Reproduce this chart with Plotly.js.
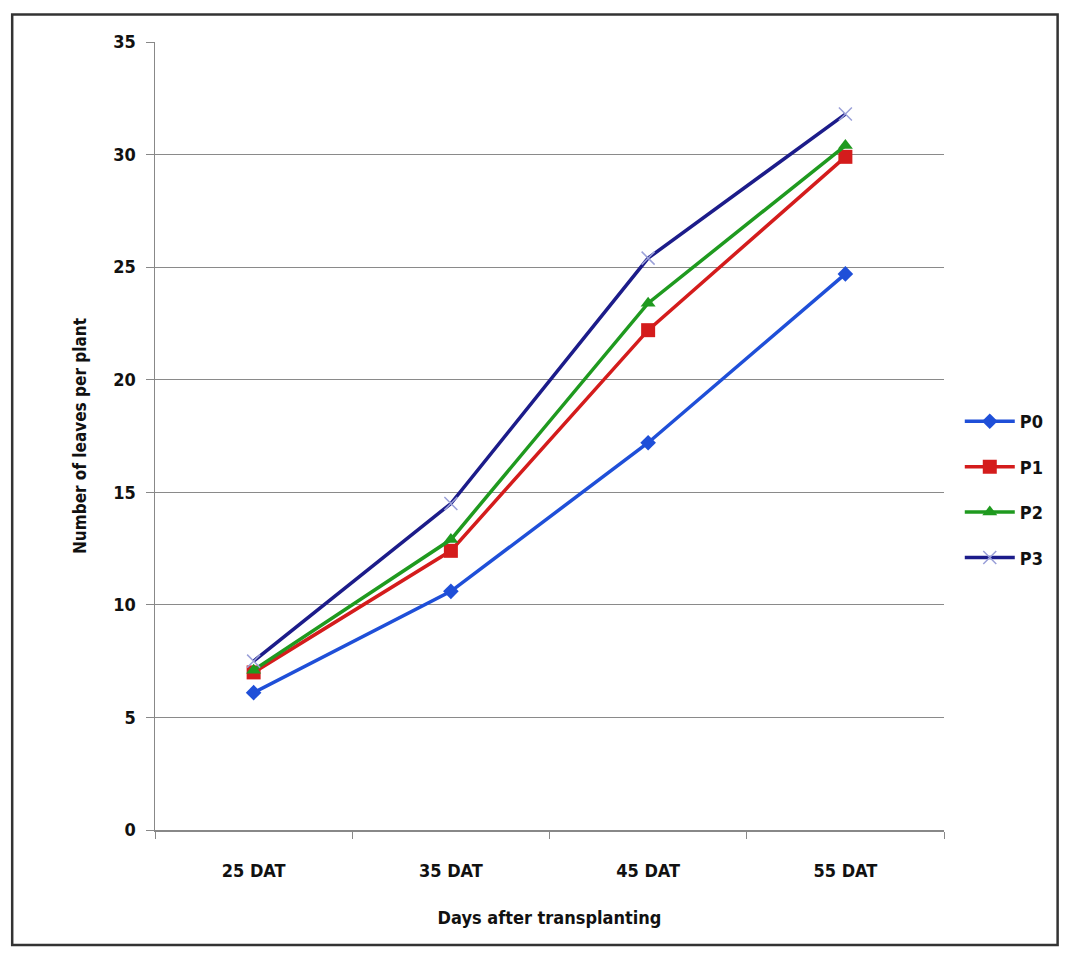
<!DOCTYPE html>
<html>
<head>
<meta charset="utf-8">
<script src="https://cdn.plot.ly/plotly-3.0.1.min.js"></script>
<style>
html,body{margin:0;padding:0;background:#fff;}
#chart{width:1065px;height:956px;}
</style>
</head>
<body>
<div id="chart"></div>
<script>
const categories = ["25 DAT", "35 DAT", "45 DAT", "55 DAT"];
const seriesNames = ["P0", "P1", "P2", "P3"];
const P0 = [6.1, 10.6, 17.2, 24.7];
const P1 = [7.0, 12.4, 22.2, 29.9];
const P2 = [7.1, 12.9, 23.4, 30.4];
const P3 = [7.5, 14.5, 25.4, 31.8];
const yTicks = [0, 5, 10, 15, 20, 25, 30, 35];

const FONT = '"DejaVu Sans Condensed", "Liberation Sans Narrow", "Open Sans", sans-serif';
const colors = ["#1f4fd8", "#d41c1c", "#1f9a1f", "#1c1c8a"];
const symbols = ["diamond", "square", "triangle-up", "x-thin"];
const sizes = [12, 14, 13, 13];
const values = [P0, P1, P2, P3];

const traces = values.map((v, i) => ({
  type: "scatter",
  mode: "lines+markers",
  name: seriesNames[i],
  legendgroup: "g" + i,
  x: categories,
  y: v,
  line: {color: colors[i], width: 3.5},
  marker: {
    symbol: symbols[i],
    size: sizes[i],
    color: i === 3 ? "#9aa0d8" : colors[i],
    line: {width: i === 3 ? 1.5 : 0, color: i === 3 ? "#9aa0d8" : colors[i]}
  }
}));

const layout = {
  width: 1065,
  height: 956,
  margin: {l: 155, r: 121, t: 42, b: 126},
  paper_bgcolor: "#ffffff",
  plot_bgcolor: "#ffffff",
  font: {family: FONT, size: 16, color: "#111"},
  showlegend: true,
  legend: {
    x: 1.02, y: 0.432, xanchor: "left", yanchor: "middle",
    font: {family: FONT, size: 18, color: "#111", weight: "bold"},
    tracegroupgap: 19,
    itemwidth: 50,
    bgcolor: "rgba(0,0,0,0)"
  },
  xaxis: {
    type: "category",
    categoryorder: "array",
    categoryarray: categories,
    tickson: "boundaries",
    ticks: "outside",
    ticklen: 7,
    tickcolor: "#888",
    showline: true,
    linecolor: "#888",
    linewidth: 1.5,
    showgrid: false,
    zeroline: false,
    tickfont: {family: FONT, size: 18, color: "#111", weight: "bold"},
    ticklabelstandoff: 24,
    title: {text: "Days after transplanting", font: {family: FONT, size: 18, color: "#111", weight: "bold"}, standoff: 31},
    range: [-0.5, 3.5]
  },
  yaxis: {
    range: [0, 35],
    tickvals: yTicks,
    ticks: "outside",
    ticklen: 8,
    tickcolor: "#888",
    showline: true,
    linecolor: "#888",
    linewidth: 1.5,
    showgrid: true,
    gridcolor: "#8a8a8a",
    gridwidth: 1.2,
    zeroline: false,
    tickfont: {family: FONT, size: 18, color: "#111", weight: "bold"},
    ticklabelstandoff: 6,
    title: {text: "Number of leaves per plant", font: {family: FONT, size: 17, color: "#111", weight: "bold"}, standoff: 22}
  },
  shapes: [
    {type: "rect", xref: "paper", yref: "paper", x0: -0.181, x1: 1.144, y0: -0.146, y1: 1.035,
     line: {color: "#333", width: 2.5}, fillcolor: "rgba(0,0,0,0)", layer: "below"}
  ]
};

Plotly.newPlot("chart", traces, layout, {displayModeBar: false, staticPlot: true});
</script>
</body>
</html>
